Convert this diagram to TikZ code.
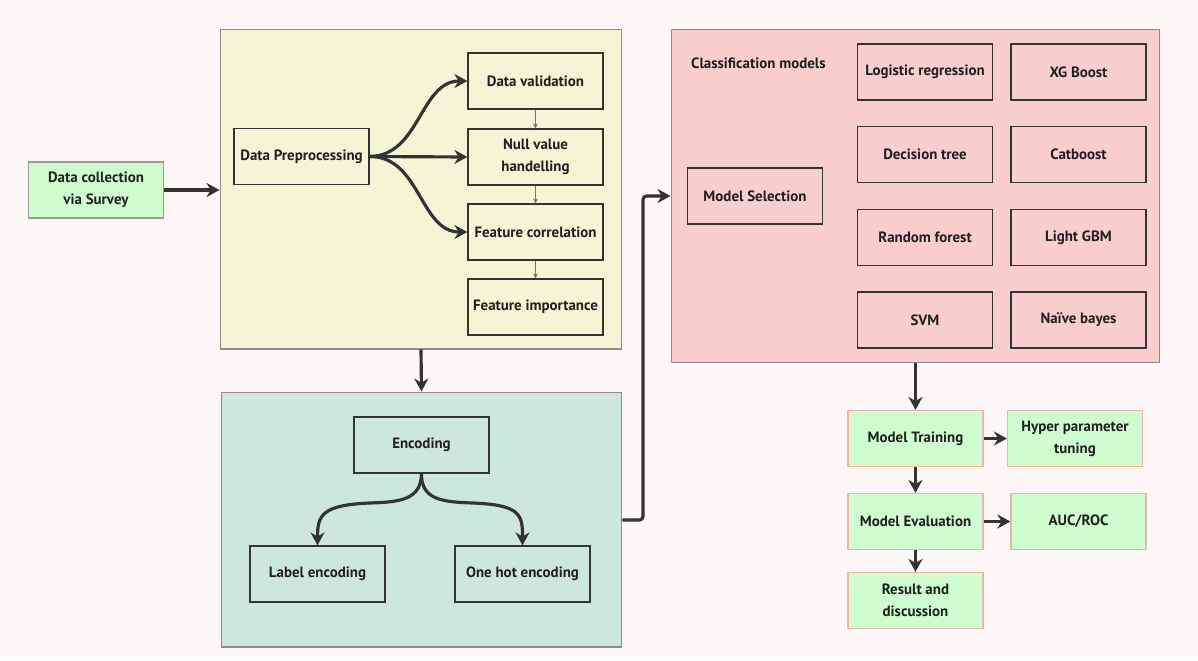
\documentclass[tikz,border=0pt]{standalone}
\usepackage{fontspec}
\setmainfont{PT Sans}
\usepackage{xcolor}
\usetikzlibrary{arrows.meta, calc}

\definecolor{pagebg}{HTML}{FDF7F7}
\definecolor{prepfill}{HTML}{F4F4D6}
\definecolor{modelfill}{HTML}{F9CECC}
\definecolor{encfill}{HTML}{CEE6E0}
\definecolor{stepfill}{HTML}{CFFDCF}
\definecolor{stepedge}{HTML}{EDB5A6}
\definecolor{ink}{HTML}{333333}

\tikzset{
  panel/.style={draw=black!45, line width=0.6pt},
  box/.style={draw=ink, line width=0.7pt, align=center, minimum width=2.7cm, minimum height=1.12cm, inner sep=1pt},
  greenbox/.style={box, draw=stepedge, fill=stepfill},
  flow/.style={-{Stealth[length=2.6mm, width=2.8mm]}, draw=ink, line width=1.8pt},
  thin/.style={-{Stealth[length=1mm, width=1mm]}, draw=black!55, line width=0.4pt},
}

\begin{document}
\begin{tikzpicture}[x=0.02cm, y=-0.02cm, every node/.style={font=\fontsize{8.5}{12.5}\selectfont\bfseries, text=black!88}]
  \useasboundingbox[fill=pagebg] (0,0) rectangle (1198,660);
  % panels
  \node[panel, fill=prepfill, minimum width=8.04cm, minimum height=6.4cm] (prep) at (421,189) {};
  \node[panel, fill=encfill, minimum width=8.02cm, minimum height=5.1cm] (enc) at (421.5,519.5) {};
  \node[panel, fill=modelfill, minimum width=9.77cm, minimum height=6.68cm] (models) at (915.25,196) {};
  % left part
  \node[greenbox, draw=black!40] (collect) at (96,190) {Data collection\\via Survey};
  \node[box] (preproc) at (301.5,156.5) {Data Preprocessing};
  \node[box] (valid) at (535.5,81) {Data validation};
  \node[box] (null) at (535.5,157) {Null value\\handelling};
  \node[box] (corr) at (535.5,232) {Feature correlation};
  \node[box] (imp) at (535.5,307) {Feature importance};
  \node[box] (encoding) at (421.5,445) {Encoding};
  \node[box] (label) at (317.5,574) {Label encoding};
  \node[box] (onehot) at (522.5,574) {One hot encoding};
  % classification models
  \node[anchor=west] (cmlabel) at (685,63) {Classification models};
  \node[box] (select) at (755,196) {Model Selection};
  \node[box] (logreg) at (925,72) {Logistic regression};
  \node[box] (xgb) at (1078.5,72) {XG Boost};
  \node[box] (dtree) at (925,154.5) {Decision tree};
  \node[box] (catb) at (1078.5,154.5) {Catboost};
  \node[box] (rforest) at (925,237.5) {Random forest};
  \node[box] (lgbm) at (1078.5,237.5) {Light GBM};
  \node[box] (svm) at (925,320) {SVM};
  \node[box] (nbayes) at (1078.5,320) {Naïve bayes};
  % lower right
  \node[greenbox] (train) at (915.5,438.5) {Model Training};
  \node[greenbox] (hyper) at (1075,438.5) {Hyper parameter\\tuning};
  \node[greenbox] (eval) at (915.5,521.5) {Model Evaluation};
  \node[greenbox] (auc) at (1078.5,521.5) {AUC/ROC};
  \node[greenbox] (result) at (915.5,600.5) {Result and\\discussion};
  \coordinate (bend) at (643,520);
  % connectors
  \draw[flow] (collect.east) -- (prep.west |- collect.east);
  \draw[flow] (preproc.east) .. controls (420,156) and (420,81) .. (valid.west);
  \draw[flow] (preproc.east) -- (null.west);
  \draw[flow] (preproc.east) .. controls (420,156) and (420,232) .. (corr.west);
  \draw[thin] (valid) -- (null);
  \draw[thin] (null) -- (corr);
  \draw[thin] (corr) -- (imp);
  \draw[flow] (prep.south) -- (enc.north);
  \draw[flow] (encoding.south) .. controls (421,500) and (400,502) .. (370,503) .. controls (322,505) and (317.5,515) .. (label.north);
  \draw[flow] (encoding.south) .. controls (421,500) and (443,502) .. (473,503) .. controls (521,505) and (522.5,515) .. (onehot.north);
  \draw[flow, rounded corners=2pt] (enc.east |- bend) -- (bend) |- (models.west);
  \draw[flow] (models.south -| train.north) -- (train.north);
  \draw[flow] (train.east) -- (hyper.west);
  \draw[flow] (train.south) -- (eval.north);
  \draw[flow] (eval.east) -- (auc.west);
  \draw[flow] (eval.south) -- (result.north);
\end{tikzpicture}
\end{document}
